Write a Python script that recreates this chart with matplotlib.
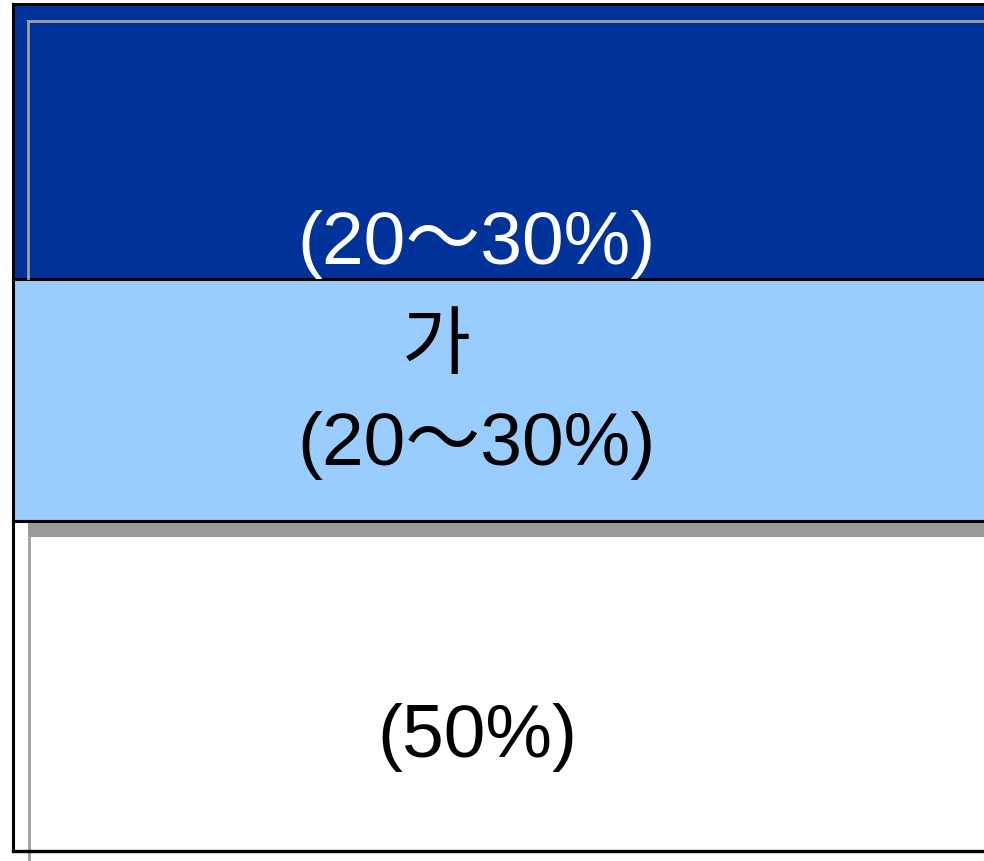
import matplotlib
matplotlib.use("Agg")
import matplotlib.pyplot as plt

# three stacked bands, top -> bottom
band_labels = ["(20～30%)", "(20～30%)", "(50%)"]
band_headers = ["", "가", ""]
band_colors = ["#003399", "#99CCFF", "#FFFFFF"]
text_colors = ["white", "black", "black"]

W, H = 984, 862
edges = [5, 280, 522, 852]          # pixel rows of band borders
label_y = [245, 446, 738]
header_y = [None, 349, None]
FONT = ["Liberation Sans", "Noto Sans CJK KR", "DejaVu Sans"]
FS = 54

fig = plt.figure(figsize=(W / 100, H / 100), dpi=100)
ax = fig.add_axes([0, 0, 1, 1])
ax.set_xlim(0, W); ax.set_ylim(H, 0); ax.axis("off")

left, right = 13, W + 30
for i, col in enumerate(band_colors):
    ax.bar(left, edges[i + 1] - edges[i], width=right - left, bottom=edges[i],
           align="edge", color=col, edgecolor="black", lw=2.2, zorder=1 + i)

# grey frame/shadow lines
ax.plot([28, right], [22, 22], color="#a0a0a0", lw=2, zorder=2)
ax.plot([28, 28], [22, edges[1] - 1], color="#a0a0a0", lw=2, zorder=2)
ax.bar(28, 14, width=right - 28, bottom=edges[2] + 2, align="edge",
       color="#999999", lw=0, zorder=5)
ax.plot([28.5, 28.5], [edges[2] + 16, H + 5], color="#a0a0a0", lw=2, zorder=5)
ax.plot([left, right], [edges[3], edges[3]], color="black", lw=2.4, zorder=6)

for i, lab in enumerate(band_labels):
    ax.text(477, label_y[i], lab, color=text_colors[i], fontsize=FS,
            family=FONT, ha="center", va="center", zorder=10)
    if band_headers[i]:
        ax.text(436, header_y[i], band_headers[i], color=text_colors[i],
                fontsize=FS, family=FONT, ha="center", va="center", zorder=10)

fig.savefig("out.png", dpi=100)
